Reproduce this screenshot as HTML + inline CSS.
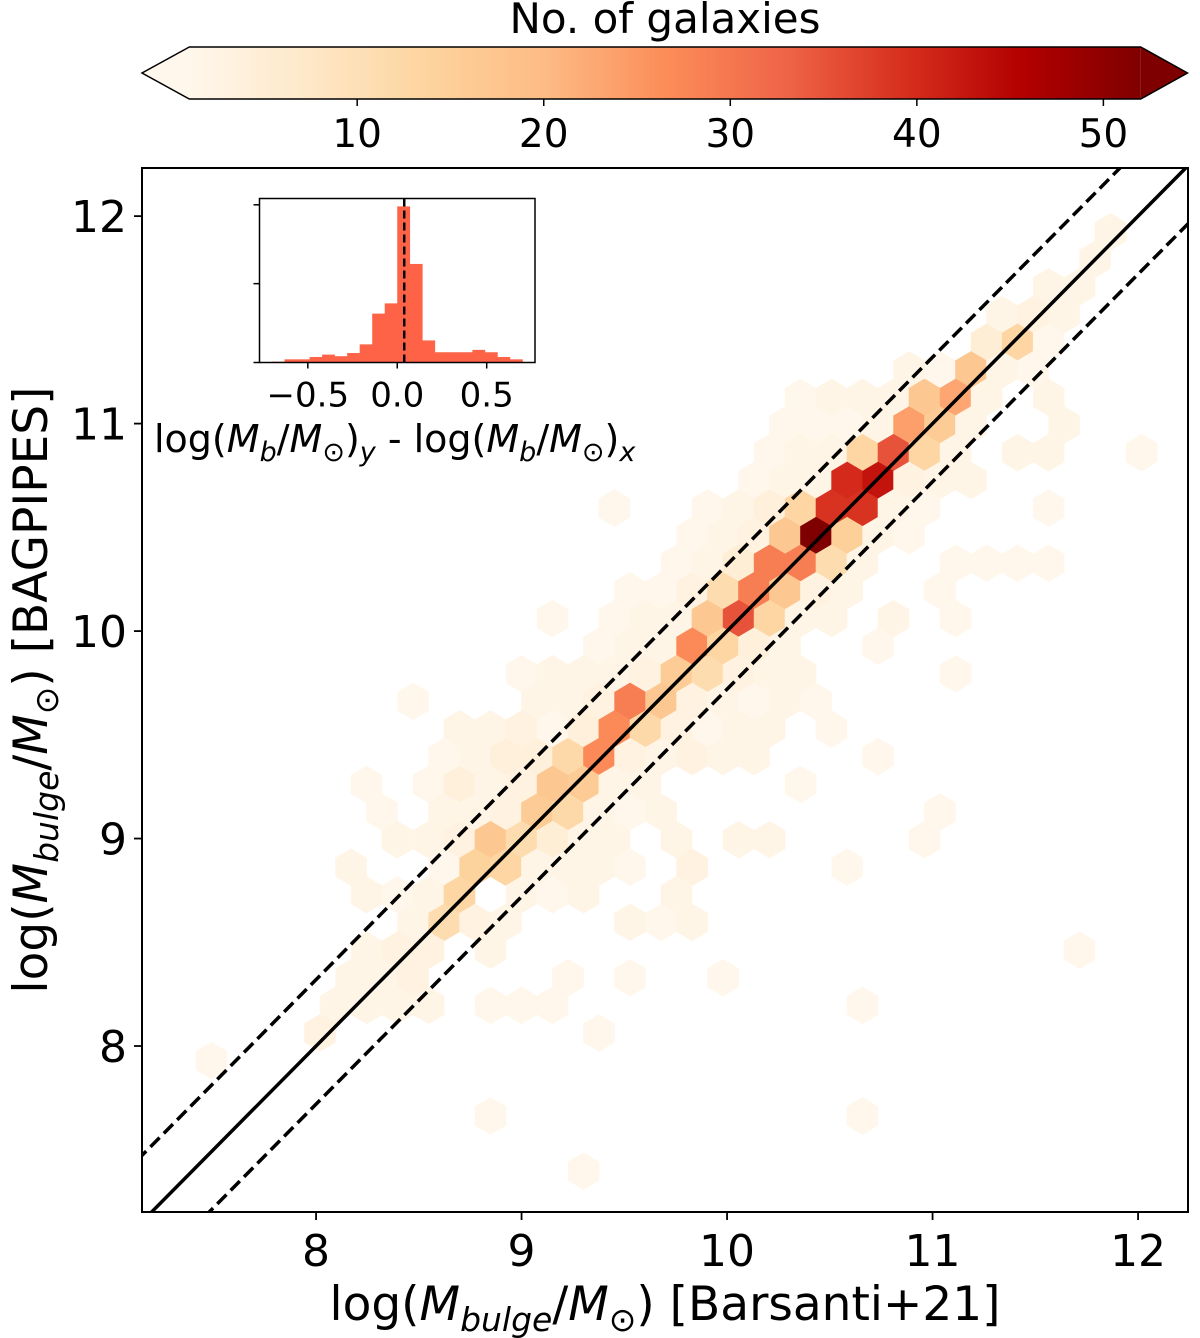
<!DOCTYPE html>
<html><head><meta charset="utf-8"><style>
html,body{margin:0;padding:0;background:#fff;overflow:hidden;width:1200px;height:1338px;}
svg{display:block;font-family:"DejaVu Sans","Liberation Sans",sans-serif;}
</style></head><body>
<svg id="chart" width="1200" height="1338" viewBox="0 0 1200 1338" xmlns="http://www.w3.org/2000/svg">
<defs>
<linearGradient id="cbgrad" x1="0" x2="1" y1="0" y2="0">
<stop offset="0" stop-color="#fff7ec"/><stop offset="0.125" stop-color="#fee8c8"/><stop offset="0.25" stop-color="#fdd49e"/><stop offset="0.375" stop-color="#fdbb84"/><stop offset="0.5" stop-color="#fc8d59"/><stop offset="0.625" stop-color="#ef6548"/><stop offset="0.75" stop-color="#d7301f"/><stop offset="0.875" stop-color="#b30000"/><stop offset="1" stop-color="#7f0000"/>
</linearGradient>
<clipPath id="plotclip"><rect x="142" y="168" width="1046" height="1044"/></clipPath>
</defs>
<text x="665" y="33" font-size="42" text-anchor="middle">No. of galaxies</text>
<g id="colorbar">
<polygon points="189.3,47 142,73 189.3,99" fill="#fff7ec" stroke="none"/>
<polygon points="1140.7,47 1187.5,73 1140.7,99" fill="#7f0000" stroke="none"/>
<rect x="189.3" y="47" width="951.4" height="52" fill="url(#cbgrad)"/>
<polygon points="189.3,47 142,73 189.3,99 1140.7,99 1187.5,73 1140.7,47" fill="none" stroke="#000" stroke-width="1.5"/>
</g>
<g id="cbticks"></g>
<g id="hexes" clip-path="url(#plotclip)"></g>
<g id="lines" clip-path="url(#plotclip)"></g>
<rect x="142" y="168" width="1046" height="1044" fill="none" stroke="#000" stroke-width="2"/>
<g id="axes"></g>
<text x="665" y="1320" font-size="47" text-anchor="middle">log(<tspan font-style="italic">M</tspan><tspan font-style="italic" font-size="33" dy="11">bulge</tspan><tspan dy="-11">/</tspan><tspan font-style="italic">M</tspan><tspan font-size="33" dy="11">⊙</tspan><tspan dy="-11">) [Barsanti+21]</tspan></text>
<text transform="translate(47,690) rotate(-90)" font-size="47" text-anchor="middle">log(<tspan font-style="italic">M</tspan><tspan font-style="italic" font-size="33" dy="11">bulge</tspan><tspan dy="-11">/</tspan><tspan font-style="italic">M</tspan><tspan font-size="33" dy="11">⊙</tspan><tspan dy="-11">) [BAGPIPES]</tspan></text>
<g id="inset">
<rect x="259.5" y="198.5" width="275.5" height="164" fill="#fff"/>
<g id="histbars"></g>
<g id="insetaxes"></g>
<rect x="259.5" y="198.5" width="275.5" height="164" fill="none" stroke="#000" stroke-width="1.5"/>
<text x="154" y="452" font-size="38">log(<tspan font-style="italic">M</tspan><tspan font-style="italic" font-size="27" dy="9">b</tspan><tspan dy="-9">/</tspan><tspan font-style="italic">M</tspan><tspan font-size="27" dy="9">⊙</tspan><tspan dy="-9">)</tspan><tspan font-style="italic" font-size="27" dy="9">y</tspan><tspan dy="-9"> - log(</tspan><tspan font-style="italic">M</tspan><tspan font-style="italic" font-size="27" dy="9">b</tspan><tspan dy="-9">/</tspan><tspan font-style="italic">M</tspan><tspan font-size="27" dy="9">⊙</tspan><tspan dy="-9">)</tspan><tspan font-style="italic" font-size="27" dy="9">x</tspan></text>
</g>
</svg>
<script>
// ---- data ----
const xTicks = [8, 9, 10, 11, 12];
const yTicks = [8, 9, 10, 11, 12];
const cbTicks = [10, 20, 30, 40, 50];
const rowY = [11.925,11.792,11.659,11.525,11.392,11.259,11.126,10.993,10.860,10.726,10.593,10.460,10.327,10.194,10.060,9.927,9.794,9.661,9.528,9.395,9.261,9.128,8.995,8.862,8.729,8.596,8.462,8.329,8.196,8.063,7.930,7.663,7.397];
const rowHexX = [
[11.866],
[11.791],
[11.565,11.715],
[11.338,11.489,11.640],
[11.263,11.414,11.565],
[10.886,11.036,11.187,11.338,11.489],
[10.358,10.508,10.659,10.810,10.961,11.112,11.263,11.565],
[10.282,10.433,10.584,10.735,10.886,11.036,11.187,11.640],
[10.207,10.358,10.508,10.659,10.810,10.961,11.112,11.414,11.565,12.017],
[10.131,10.282,10.433,10.584,10.735,10.886,11.036,11.187],
[9.452,9.905,10.056,10.207,10.358,10.508,10.659,10.810,10.961,11.565],
[9.830,9.980,10.131,10.282,10.433,10.584,10.735,10.886],
[9.754,9.905,10.056,10.207,10.358,10.508,10.659,11.112,11.263,11.414,11.565],
[9.528,9.679,9.830,9.980,10.131,10.282,10.433,10.584,11.036],
[9.151,9.452,9.603,9.754,9.905,10.056,10.207,10.358,10.508,10.810,11.112],
[9.377,9.528,9.679,9.830,9.980,10.131,10.282,10.735],
[9.000,9.151,9.302,9.452,9.603,9.754,9.905,10.056,10.207,10.358,11.112],
[8.472,9.075,9.226,9.377,9.528,9.679,9.830,9.980,10.131,10.282,10.433],
[8.698,8.849,9.000,9.151,9.302,9.452,9.603,9.754,9.905,10.056,10.207,10.508],
[8.623,8.774,8.924,9.075,9.226,9.377,9.528,9.679,9.830,9.980,10.131,10.735],
[8.246,8.547,8.698,8.849,9.000,9.151,9.302,9.452,9.603,10.358],
[8.321,8.623,8.774,8.924,9.075,9.226,9.377,9.528,9.679,11.036],
[8.396,8.547,8.698,8.849,9.000,9.151,9.302,9.452,9.754,10.056,10.207,10.961],
[8.170,8.623,8.774,8.924,9.075,9.226,9.377,9.528,9.830,10.584],
[8.246,8.396,8.547,8.698,9.000,9.151,9.302,9.754],
[8.472,8.623,8.774,8.924,9.528,9.679,9.830],
[8.246,8.396,8.547,8.849,11.715],
[8.170,8.321,8.472,9.226,9.528,9.980],
[8.095,8.246,8.396,8.547,8.849,9.000,9.151,10.659],
[8.019,9.377],
[7.491],
[8.849,10.659],
[9.302]
];
const rowHexN = [
[2],
[2],
[2,2],
[2,3,2],
[5,13,1],
[2,1,17,2,1],
[1,2,2,2,17,23,2,2],
[1,1,1,2,24,16,2,2],
[1,2,2,13,35,13,2,2,2,1],
[1,2,2,40,43,3,2,2],
[1,1,2,4,13,39,39,2,1,1],
[1,2,3,17,52,15,2,1],
[1,2,5,29,29,11,2,1,1,1,1],
[1,1,3,11,29,17,3,2,1],
[1,1,2,2,17,35,13,2,2,2,1],
[1,2,2,27,13,4,2,1],
[1,2,2,2,3,16,11,3,2,2,1],
[1,2,2,3,29,17,3,2,1,2,1],
[2,2,3,1,4,27,12,3,1,2,2,1],
[1,2,4,4,12,27,3,2,3,2,2,1],
[1,1,4,2,3,17,16,2,2,1],
[1,2,2,3,16,12,2,1,2,1],
[2,2,3,17,11,5,2,2,2,2,2,1],
[2,1,14,13,2,2,2,1,3,1],
[2,1,2,13,2,1,2,2],
[2,11,3,2,2,1,2],
[2,3,3,2,1],
[2,2,3,1,1,1],
[2,2,2,2,1,1,1,1],
[3,1],
[1],
[1,1],
[1]
];
const histStart = -0.70;
const histWidth = 0.07;
const histCounts = [1,4,4,7,10,8,12,23,62,75,198,125,28,13,13,13,16,13,7,4];
const histMedian = 0.039;
const insetXTicks = [-0.5, 0.0, 0.5];
const insetXTickLabels = ["\u22120.5", "0.0", "0.5"];
const insetYTicks = [0, 100, 200];
const upperOffset = 0.32;
const lowerOffset = -0.28;

// ---- scales ----
const NS = "http://www.w3.org/2000/svg";
const xMin = 7.153, xMax = 12.243, yMin = 7.2, yMax = 12.232;
const PL = 142, PR = 1188, PT = 168, PB = 1212;
function sx(v){ return PL + (v - xMin) / (xMax - xMin) * (PR - PL); }
function sy(v){ return PB - (v - yMin) / (yMax - yMin) * (PB - PT); }
const vmin = 1, vmax = 52;
const CBL = 189.3, CBR = 1140.7;
function scb(v){ return CBL + (v - vmin) / (vmax - vmin) * (CBR - CBL); }
const IL = 259.5, IR = 535, IT = 198.5, IB = 362.5;
const ixMin = -0.77, ixMax = 0.77, iyMax = 208;
function isx(v){ return IL + (v - ixMin) / (ixMax - ixMin) * (IR - IL); }
function isy(v){ return IB - v / iyMax * (IB - IT); }

const stops = ["#fff7ec","#fee8c8","#fdd49e","#fdbb84","#fc8d59","#ef6548","#d7301f","#b30000","#7f0000"];
function hex2rgb(h){ return [parseInt(h.substr(1,2),16),parseInt(h.substr(3,2),16),parseInt(h.substr(5,2),16)]; }
function cmap(v){
  let t = Math.max(0, Math.min(1, (v - vmin) / (vmax - vmin)));
  let p = t * (stops.length - 1);
  let i = Math.min(stops.length - 2, Math.floor(p));
  let f = p - i;
  let a = hex2rgb(stops[i]), b = hex2rgb(stops[i+1]);
  let c = a.map((x, j) => Math.round(x + (b[j] - x) * f));
  return "rgb(" + c.join(",") + ")";
}
function mk(tag, attrs, parent){
  const el = document.createElementNS(NS, tag);
  for (const k in attrs) el.setAttribute(k, attrs[k]);
  parent.appendChild(el);
  return el;
}

// ---- hexes ----
const hexG = document.getElementById("hexes");


const hdx = 0.1509, hdy = 0.2663;
rowY.forEach((y, r) => {
  rowHexX[r].forEach((x, i) => {
    const n = rowHexN[r][i];
    const pts = [[0, hdy/3],[hdx/2, hdy/6],[hdx/2, -hdy/6],[0, -hdy/3],[-hdx/2, -hdy/6],[-hdx/2, hdy/6]]
      .map(o => sx(x + o[0]).toFixed(1) + "," + sy(y + o[1]).toFixed(1)).join(" ");
    const c = cmap(n);
    const p = mk("polygon", {points: pts, fill: c, stroke: c, "stroke-width": 0.6}, hexG);
    
    
  });
});

// ---- lines ----
const lineG = document.getElementById("lines");
[[0, "none", "one-to-one-line"], [upperOffset, "13 6", "upper-offset-line"], [lowerOffset, "13 6", "lower-offset-line"]].forEach(d => {
  const a = xMin - 1, b = xMax + 1;
  const l = mk("line", {x1: sx(a), y1: sy(a + d[0]), x2: sx(b), y2: sy(b + d[0]), stroke: "#000", "stroke-width": 3.5, "stroke-dasharray": d[1]}, lineG);
  
  
});

// ---- axes ----
const axG = document.getElementById("axes");
xTicks.forEach(t => {
  const tk = mk("line", {x1: sx(t), x2: sx(t), y1: PB, y2: PB + 8, stroke: "#000", "stroke-width": 1.8}, axG);
  
  
  const tx = mk("text", {x: sx(t), y: PB + 54, "font-size": 44, "text-anchor": "middle"}, axG);
  
  
  tx.textContent = String(t);
});
yTicks.forEach(t => {
  const tk = mk("line", {x1: PL - 8, x2: PL, y1: sy(t), y2: sy(t), stroke: "#000", "stroke-width": 1.8}, axG);
  
  
  const tx = mk("text", {x: PL - 15, y: sy(t) + 16, "font-size": 44, "text-anchor": "end"}, axG);
  
  
  tx.textContent = String(t);
});

// ---- colorbar ticks ----
const cbG = document.getElementById("cbticks");
cbTicks.forEach(t => {
  const tk = mk("line", {x1: scb(t), x2: scb(t), y1: 99, y2: 106, stroke: "#000", "stroke-width": 1.5}, cbG);
  
  
  const tx = mk("text", {x: scb(t), y: 147, "font-size": 39, "text-anchor": "middle"}, cbG);
  
  
  tx.textContent = String(t);
});

// ---- inset histogram ----
const hb = document.getElementById("histbars");


histCounts.forEach((c, i) => {
  const x0 = histStart + i * histWidth, x1 = x0 + histWidth;
  const r = mk("rect", {x: isx(x0), y: isy(c), width: isx(x1) - isx(x0) + 0.3, height: IB - isy(c), fill: "#ff6347"}, hb);
  
  
});
const ia = document.getElementById("insetaxes");
const med = mk("line", {x1: isx(histMedian), x2: isx(histMedian), y1: IT, y2: IB, stroke: "#000", "stroke-width": 2.5, "stroke-dasharray": "8 4"}, ia);


insetXTicks.forEach((t, i) => {
  const tk = mk("line", {x1: isx(t), x2: isx(t), y1: IB, y2: IB + 6, stroke: "#000", "stroke-width": 1.5}, ia);
  
  
  const tx = mk("text", {x: isx(t), y: IB + 44, "font-size": 34, "text-anchor": "middle"}, ia);
  
  
  tx.textContent = insetXTickLabels[i];
});
insetYTicks.forEach(t => {
  const tk = mk("line", {x1: IL - 6, x2: IL, y1: isy(t), y2: isy(t), stroke: "#000", "stroke-width": 1.5}, ia);
  
  
});
</script>
</body></html>
